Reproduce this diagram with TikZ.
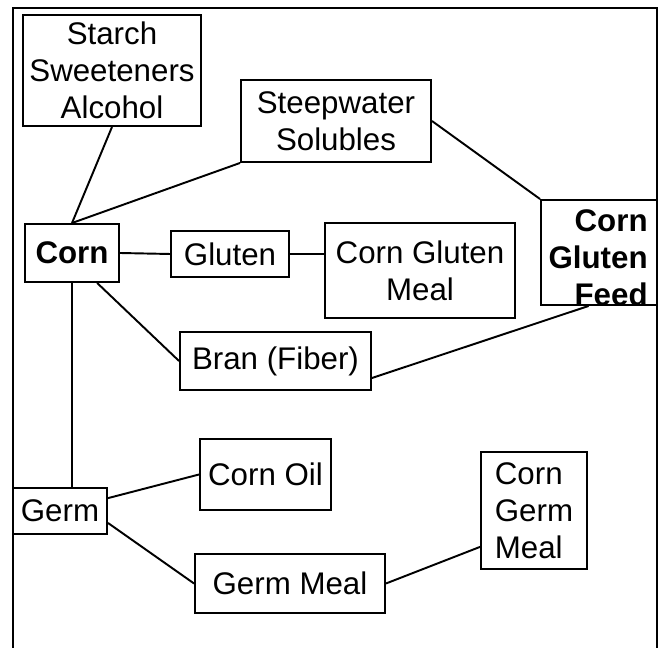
\documentclass[tikz,border=0pt]{standalone}
\usepackage{fontspec}
\setmainfont{Liberation Sans}

\begin{document}
\begin{tikzpicture}[txt/.style={inner sep=0,font=\fontsize{17.8}{21}\selectfont},
  box/.style={txt,draw,line width=1.1pt,align=center},
  link/.style={line width=1.1pt}]
\useasboundingbox (0,0) rectangle (13.18,12.96);
% outer frame
\draw[line width=1.5pt] (0.26,0) -- (0.26,12.80) -- (13.14,12.80) -- (13.14,0);
% products
\node [box,minimum width=3.56cm,minimum height=2.22cm] (starch) at (2.24,11.55) {Starch\\Sweeteners\\Alcohol};
\node [box,minimum width=3.80cm,minimum height=1.64cm] (steep) at (6.72,10.54) {Steepwater\\Solubles};
\node [box,minimum width=1.88cm,minimum height=1.16cm,font=\fontsize{17.8}{21}\selectfont\bfseries] (corn) at (1.44,7.90) {Corn};
\node [box,minimum width=2.36cm,minimum height=0.92cm] (gluten) at (4.60,7.88) {Gluten};
\node [box,minimum width=3.80cm,minimum height=1.90cm] (cgm) at (8.40,7.55) {Corn Gluten\\Meal};
\node [box,minimum width=2.32cm,minimum height=2.10cm,
  label={[txt,align=right,font=\fontsize{17.8}{21}\selectfont\bfseries,anchor=south east,xshift=-0.2cm]south east:Corn\\Gluten\\Feed}] (feed) at (11.98,7.91) {};
\node [box,minimum width=3.82cm,minimum height=1.16cm] (bran) at (5.51,5.74) {Bran (Fiber)};
\node [box,minimum width=2.62cm,minimum height=1.42cm] (oil) at (5.31,3.47) {Corn Oil};
\node [box,minimum width=1.88cm,minimum height=0.92cm] (germ) at (1.20,2.74) {Germ};
\node [box,minimum width=3.80cm,minimum height=1.18cm] (meal) at (5.80,1.29) {Germ Meal};
\node [box,minimum width=2.12cm,minimum height=2.34cm,align=left] (cgerm) at (10.68,2.75) {Corn\\Germ\\Meal};
% connectors
\foreach \a/\b in {starch.south/corn.north, steep.south west/corn.north,
  steep.east/feed.north west, corn.east/gluten.west,
  gluten.east/gluten.east -| cgm.west, corn.-50/bran.west,
  bran.-10/feed.-101, corn.south/corn.south |- germ.north,
  germ.15/oil.west, germ.-14/meal.west, meal.east/cgerm.214}
  {\draw [link] (\a) -- (\b);}
\end{tikzpicture}
\end{document}
